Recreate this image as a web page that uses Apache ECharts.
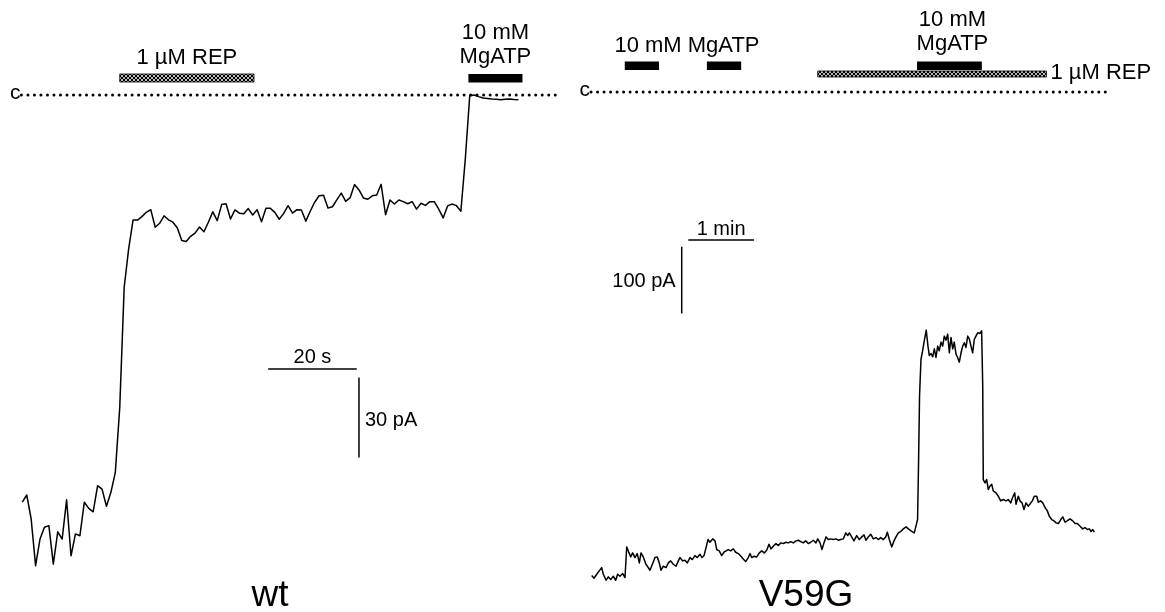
<!DOCTYPE html>
<html>
<head>
<meta charset="utf-8">
<script src="https://cdn.jsdelivr.net/npm/echarts@6/dist/echarts.min.js"></script>
<style>
  html, body { margin: 0; padding: 0; background: #fff; }
  #chart { width: 1165px; height: 612px; }
</style>
</head>
<body>
<div id="chart"></div>
<script>
// ---- wt: whole-cell current (pA), one sample per second ----
const wtSampleInterval = 1; // s
const wtCurrent = [
  -152.7, -150.0, -159.0, -176.5, -166.5, -162.1, -161.5, -175.9, -163.8, -166.5,
  -151.8, -172.8, -164.6, -165.3, -152.7, -155.0, -156.3, -146.5, -147.8, -154.2,
  -149.0, -141.5, -117.1, -72.1, -57.8, -46.9, -46.9, -45.6, -44.0, -43.0,
  -49.6, -48.1, -45.3, -46.8, -47.7, -49.9, -54.6, -54.9, -53.0, -51.8,
  -49.5, -51.3, -47.7, -43.8, -47.1, -41.1, -40.8, -46.5, -43.1, -44.3,
  -44.5, -42.6, -45.0, -43.0, -47.5, -42.5, -42.5, -44.0, -46.6, -44.4,
  -41.5, -44.3, -43.0, -43.1, -47.3, -43.6, -40.2, -37.8, -37.6, -42.4,
  -41.9, -39.3, -36.8, -39.9, -38.5, -33.6, -35.6, -38.6, -39.1, -37.8,
  -37.5, -33.5, -44.9, -39.4, -40.9, -39.4, -40.0, -40.8, -40.0, -42.8,
  -40.6, -41.4, -40.0, -40.0, -42.8, -46.1, -41.6, -40.9, -41.5, -43.6,
  -24.0, -0.3, 0.0, -0.6, -1.1, -1.3, -1.5, -1.6, -1.8, -1.6,
  -1.5, -1.7, -1.8
];
// application windows (s)
const wtRep = [22.0, 52.3];
const wtMgATP = [100.7, 112.9];
const wtClosedLevel = [-0.2, 120.8];
const wtScale = [20, 30]; // s, pA

// ---- V59G: whole-cell current (pA) against time (s) ----
const v59gTime = [
  0, 2.1, 4.6, 6.9, 9.1, 10.6, 13.1, 15.2, 17.4, 19.7,
  21.9, 23.7, 25.8, 28.3, 30.4, 32.0, 34.1, 35.6, 37.4, 39.5,
  41.6, 43.5, 45.0, 47.1, 49.3, 51.1, 53.2, 55.7, 57.8, 59.9,
  61.7, 63.3, 65.4, 67.9, 70.0, 72.1, 74.5, 77.0, 79.1, 80.6,
  83.1, 85.2, 87.3, 89.8, 91.9, 94.3, 96.4, 98.9, 100.7, 102.6,
  104.4, 106.2, 108.0, 110.5, 112.6, 114.2, 116.5, 118.7, 120.8, 122.6,
  124.7, 126.9, 129.3, 131.5, 133.9, 136.3, 138.4, 140.6, 143.0, 144.6,
  146.1, 148.2, 150.7, 153.1, 155.3, 157.6, 159.8, 161.9, 163.7, 165.8,
  168.3, 170.4, 172.6, 175.0, 177.4, 179.5, 181.7, 184.1, 186.6, 188.7,
  190.9, 193.2, 195.4, 197.8, 200.0, 202.4, 204.8, 206.4, 208.5, 210.3,
  212.1, 214.0, 216.1, 218.3, 220.6, 223.1, 225.2, 227.4, 229.8, 232.0,
  233.8, 235.3, 237.4, 239.5, 242.0, 244.4, 246.6, 248.7, 250.5, 252.6,
  254.8, 257.2, 259.6, 261.7, 263.9, 266.3, 268.5, 270.0, 271.8, 274.0,
  276.1, 277.9, 280.0, 282.2, 284.6, 287.1, 289.2, 291.6, 294.6, 296.4,
  297.6, 298.5, 299.4, 300.7, 302.2, 303.7, 305.5, 307.1, 308.3, 309.9,
  311.4, 312.9, 314.4, 316.0, 317.4, 319.0, 320.5, 322.0, 323.6, 325.1,
  326.6, 328.1, 329.7, 331.1, 332.7, 334.2, 335.7, 337.3, 338.8, 340.3,
  341.8, 343.4, 344.8, 346.4, 347.9, 349.4, 350.9, 352.5, 354.6, 356.1,
  357.1, 357.6, 359.2, 360.7, 362.2, 363.7, 365.3, 366.7, 369.2, 371.3,
  373.5, 375.8, 378.3, 380.4, 382.6, 384.4, 386.3, 387.5, 389.6, 391.1,
  393.0, 394.8, 396.6, 398.7, 400.3, 402.4, 404.2, 406.4, 407.9, 410.0,
  411.9, 414.0, 416.1, 417.9, 420.1, 422.2, 424.1, 426.2, 428.4, 430.2,
  432.3, 434.3, 436.8, 439.3, 441.4, 443.5, 446.0, 448.4, 450.5, 452.6,
  454.5, 456.0, 457.5, 459.0
];
const v59gCurrent = [
  -725, -729, -723, -718, -713, -723, -732, -727, -731, -726,
  -732, -723, -726, -722, -728, -682, -691, -697, -691, -698,
  -692, -706, -691, -697, -707, -706, -717, -707, -698, -697,
  -706, -717, -711, -713, -706, -703, -708, -711, -703, -698,
  -703, -702, -706, -698, -701, -695, -698, -693, -698, -695,
  -697, -671, -675, -670, -673, -686, -688, -695, -690, -692,
  -686, -688, -685, -690, -692, -696, -700, -704, -698, -692,
  -698, -696, -697, -691, -688, -691, -687, -678, -685, -681,
  -677, -680, -676, -677, -675, -676, -674, -676, -673, -672,
  -674, -676, -673, -677, -675, -672, -676, -670, -676, -686,
  -676, -667, -671, -670, -671, -670, -672, -671, -670, -661,
  -665, -661, -667, -673, -665, -671, -667, -664, -672, -667,
  -663, -670, -668, -671, -668, -671, -667, -660, -671, -682,
  -673, -667, -661, -659, -655, -652, -655, -658, -661, -663,
  -641, -556, -456, -401, -388, -373, -357, -381, -395, -392,
  -397, -385, -398, -381, -388, -375, -381, -366, -372, -363,
  -391, -368, -385, -375, -393, -398, -405, -391, -381, -376,
  -383, -366, -370, -381, -391, -371, -366, -361, -362, -358,
  -441, -581, -586, -581, -596, -591, -588, -598, -601, -606,
  -613, -611, -613, -611, -616, -608, -601, -618, -606, -613,
  -616, -626, -616, -621, -621, -613, -606, -606, -615, -613,
  -616, -623, -628, -636, -641, -643, -646, -647, -641, -637,
  -645, -643, -640, -643, -647, -647, -651, -655, -653, -656,
  -655, -659, -656, -660
];
const v59gMgATP = [[30.2, 61.5], [105.2, 136.5], [297.1, 356.3]];
const v59gRep = [206.4, 415.3];
const v59gClosedLevel = [-0.6, 473.4];
const v59gScale = [60, 100]; // s, pA

const panelNames = ['wt', 'V59G'];
const repText = '1 µM REP';
const atpLines = ['10 mM', 'MgATP'];

// ---------------- drawing ----------------
const FONT = "'Liberation Sans', Arial, Helvetica, sans-serif";
const INK = '#000';

// cross-hatch tile for the REP application bar
const HATCH = (function () {
  const c = document.createElement('canvas');
  c.width = 4; c.height = 4;
  const g = c.getContext('2d');
  g.fillStyle = '#b8b8b8'; g.fillRect(0, 0, 4, 4);
  g.fillStyle = '#000';
  [[0, 0], [1, 1], [2, 2], [3, 3], [3, 0], [2, 1], [1, 2], [0, 3]].forEach(function (p) { g.fillRect(p[0], p[1], 1, 1); });
  return c;
})();

function text(str, x, y, align, size) {
  return {
    type: 'text', x: x, y: y, silent: true,
    style: { text: str, fill: INK, fontSize: size || 22, fontFamily: FONT, align: align || 'center', verticalAlign: 'middle' }
  };
}
function solidBar(x, y, w, h) {
  return { type: 'rect', shape: { x: x, y: y, width: w, height: h }, style: { fill: INK } };
}
function hatchBar(x, y, w, h) {
  return { type: 'rect', shape: { x: x, y: y, width: w, height: h },
    style: { fill: { image: HATCH, repeat: 'repeat' }, stroke: INK, lineWidth: 0.8 } };
}
function seg(x1, y1, x2, y2, w) {
  return { type: 'line', shape: { x1: x1, y1: y1, x2: x2, y2: y2 }, style: { stroke: INK, lineWidth: w || 1.5 } };
}

// dotted closed-channel level with its "c" marker
function closedLevelItem(params, api) {
  const a = api.coord([api.value(0), 0]);
  const b = api.coord([api.value(1), 0]);
  return {
    type: 'group',
    children: [
      { type: 'line', shape: { x1: a[0], y1: a[1], x2: b[0], y2: b[1] },
        style: { stroke: INK, lineWidth: 3, lineDash: [0.01, 6.5], lineCap: 'round' } },
      text('c', a[0] - 1, a[1] - 2, 'right', 21)
    ]
  };
}

// wt: application bars and their labels
function wtProtocolItem(params, api) {
  const s = api.value(0), e = api.value(1), kind = api.value(2);
  const p0 = api.coord([s, 0]), p1 = api.coord([e, 0]);
  const cx = (p0[0] + p1[0]) / 2, base = p0[1], w = p1[0] - p0[0];
  const kids = [];
  if (kind === 0) {
    kids.push(hatchBar(p0[0], base - 21, w, 8));
    kids.push(text(repText, cx, base - 37));
  } else {
    kids.push(solidBar(p0[0], base - 21, w, 8.5));
    kids.push(text(atpLines[0], cx, base - 62));
    kids.push(text(atpLines[1], cx, base - 38));
  }
  return { type: 'group', children: kids };
}

// V59G: application bars and their labels
function v59gProtocolItem(params, api) {
  const s = api.value(0), e = api.value(1), kind = api.value(2);
  const p0 = api.coord([s, 0]), p1 = api.coord([e, 0]);
  const base = p0[1], w = p1[0] - p0[0];
  const kids = [];
  if (kind === 0) {
    kids.push(hatchBar(p0[0], base - 21, w, 6));
    kids.push(text(repText, p1[0] + 4, base - 19, 'left'));
  } else {
    kids.push(solidBar(p0[0], base - 30.5, w, 8.5));
    if (params.dataIndex === 0) {
      // one label shared by the first two pulses
      const q = api.coord([v59gMgATP[1][1], 0]);
      kids.push(text(atpLines.join(' '), (p0[0] + q[0]) / 2 + 4, base - 46));
    } else if (params.dataIndex === 2) {
      const cx = (p0[0] + p1[0]) / 2 + 3;
      kids.push(text(atpLines[0], cx, base - 72));
      kids.push(text(atpLines[1], cx, base - 48));
    }
  }
  return { type: 'group', children: kids };
}

// scale bars: [time length, current length]
function wtScaleItem(params, api) {
  const dt = api.value(0), di = api.value(1);
  const t0 = 55.5, i0 = -102.75;           // horizontal bar anchor
  const h0 = api.coord([t0, i0]), h1 = api.coord([t0 + dt, i0]);
  const v0 = api.coord([t0 + dt + 0.5, i0 - 3.15]), v1 = api.coord([t0 + dt + 0.5, i0 - 3.15 - di]);
  return {
    type: 'group',
    children: [
      seg(h0[0], h0[1], h1[0], h1[1]),
      seg(v0[0], v0[1], v1[0], v1[1]),
      text(dt + ' s', (h0[0] + h1[0]) / 2, h0[1] - 12, 'center', 20),
      text(di + ' pA', v0[0] + 6, (v0[1] + v1[1]) / 2 + 3, 'left', 20)
    ]
  };
}
function v59gScaleItem(params, api) {
  const dt = api.value(0), di = api.value(1);
  const t0 = 88.2, i0 = -222;              // horizontal bar anchor
  const h0 = api.coord([t0, i0]), h1 = api.coord([t0 + dt, i0]);
  const v0 = api.coord([t0 - 6, i0 - 10]), v1 = api.coord([t0 - 6, i0 - 10 - di]);
  return {
    type: 'group',
    children: [
      seg(h0[0], h0[1], h1[0], h1[1]),
      seg(v0[0], v0[1], v1[0], v1[1]),
      text((dt / 60) + ' min', (h0[0] + h1[0]) / 2, h0[1] - 11, 'center', 20),
      text(di + ' pA', v0[0] - 6, (v0[1] + v1[1]) / 2 + 1, 'right', 20)
    ]
  };
}

// panel geometry (px per unit chosen so both traces sit like the printed record)
const wtPxS = 4.43, wtPxPA = 80 / 30;
const vPxS = 65.7 / 60, vPxPA = 66.7 / 100;
const wtX = [-5, 125], wtY = [-185, 15];
const vX = [-15, 520], vY = [-780, 100];

const chart = echarts.init(document.getElementById('chart'), null, { renderer: 'canvas' });

const baseSeries = { animation: false, silent: true };
const traceStyle = { color: INK, width: 1.5, join: 'round' };

chart.setOption({
  backgroundColor: '#fff',
  animation: false,
  grid: [
    { left: 22.3 + wtX[0] * wtPxS, top: 95 - wtY[1] * wtPxPA,
      width: (wtX[1] - wtX[0]) * wtPxS, height: (wtY[1] - wtY[0]) * wtPxPA,
      outerBoundsMode: 'none', containLabel: false, show: false },
    { left: 591.7 + vX[0] * vPxS, top: 92 - vY[1] * vPxPA,
      width: (vX[1] - vX[0]) * vPxS, height: (vY[1] - vY[0]) * vPxPA,
      outerBoundsMode: 'none', containLabel: false, show: false }
  ],
  xAxis: [
    { type: 'value', gridIndex: 0, min: wtX[0], max: wtX[1], show: false },
    { type: 'value', gridIndex: 1, min: vX[0], max: vX[1], show: false }
  ],
  yAxis: [
    { type: 'value', gridIndex: 0, min: wtY[0], max: wtY[1], show: false },
    { type: 'value', gridIndex: 1, min: vY[0], max: vY[1], show: false }
  ],
  graphic: [
    { type: 'text', x: 270, y: 596, silent: true,
      style: { text: panelNames[0], fill: INK, fontSize: 37, fontFamily: FONT, align: 'center', verticalAlign: 'middle' } },
    { type: 'text', x: 806, y: 596, silent: true,
      style: { text: panelNames[1], fill: INK, fontSize: 37, fontFamily: FONT, align: 'center', verticalAlign: 'middle' } }
  ],
  series: [
    Object.assign({
      name: 'wt', type: 'line', xAxisIndex: 0, yAxisIndex: 0,
      showSymbol: false, symbol: 'none', clip: false, lineStyle: traceStyle,
      data: wtCurrent.map(function (v, i) { return [i * wtSampleInterval, v]; })
    }, baseSeries),
    Object.assign({
      name: 'V59G', type: 'line', xAxisIndex: 1, yAxisIndex: 1,
      showSymbol: false, symbol: 'none', clip: false, lineStyle: traceStyle,
      data: v59gTime.map(function (t, i) { return [t, v59gCurrent[i]]; })
    }, baseSeries),
    Object.assign({
      type: 'custom', xAxisIndex: 0, yAxisIndex: 0, clip: false,
      renderItem: closedLevelItem, data: [wtClosedLevel]
    }, baseSeries),
    Object.assign({
      type: 'custom', xAxisIndex: 1, yAxisIndex: 1, clip: false,
      renderItem: closedLevelItem, data: [v59gClosedLevel]
    }, baseSeries),
    Object.assign({
      type: 'custom', xAxisIndex: 0, yAxisIndex: 0, clip: false,
      renderItem: wtProtocolItem,
      data: [[wtRep[0], wtRep[1], 0], [wtMgATP[0], wtMgATP[1], 1]]
    }, baseSeries),
    Object.assign({
      type: 'custom', xAxisIndex: 1, yAxisIndex: 1, clip: false,
      renderItem: v59gProtocolItem,
      data: v59gMgATP.map(function (p) { return [p[0], p[1], 1]; }).concat([[v59gRep[0], v59gRep[1], 0]])
    }, baseSeries),
    Object.assign({
      type: 'custom', xAxisIndex: 0, yAxisIndex: 0, clip: false,
      renderItem: wtScaleItem, data: [wtScale]
    }, baseSeries),
    Object.assign({
      type: 'custom', xAxisIndex: 1, yAxisIndex: 1, clip: false,
      renderItem: v59gScaleItem, data: [v59gScale]
    }, baseSeries)
  ]
});
</script>
</body>
</html>
